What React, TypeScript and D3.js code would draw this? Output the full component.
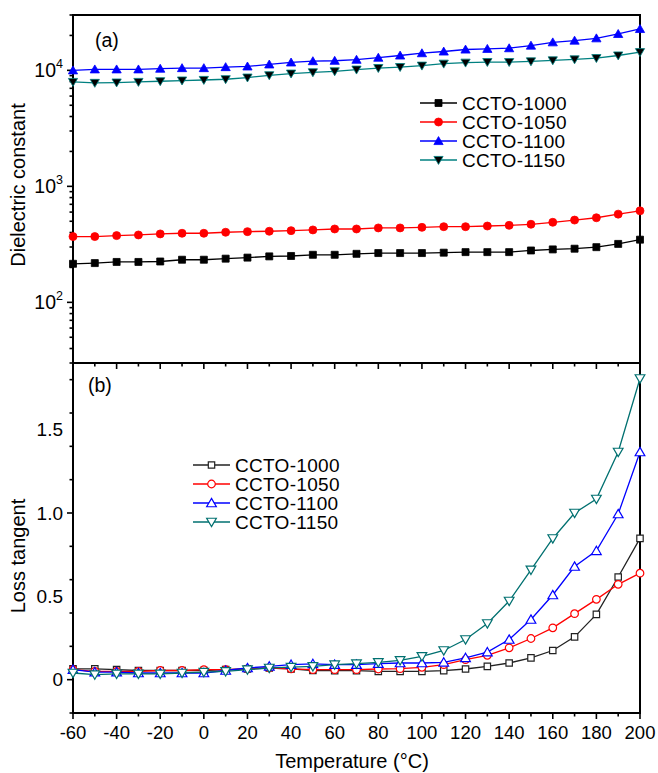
import React, { useRef, useEffect } from 'react';
import * as d3 from 'd3';

const TEMPS = [-60, -50, -40, -30, -20, -10, 0, 10, 20, 30, 40, 50, 60, 70, 80, 90, 100, 110, 120, 130, 140, 150, 160, 170, 180, 190, 200];

const SERIES_NAMES = ['CCTO-1000', 'CCTO-1050', 'CCTO-1100', 'CCTO-1150'];

// (a) dielectric constant
const EPS_1000 = [215, 218, 223, 223, 225, 233, 233, 238, 243, 249, 251, 257, 257, 262, 266, 266, 266, 268, 271, 271, 271, 280, 286, 290, 299, 319, 347];
const EPS_1050 = [369, 369, 376, 381, 389, 394, 394, 402, 407, 410, 415, 421, 429, 429, 438, 438, 443, 449, 449, 455, 461, 471, 490, 512, 536, 576, 615];
const EPS_1100 = [10000, 10200, 10200, 10200, 10340, 10460, 10460, 10670, 10810, 11250, 11700, 12010, 12100, 12350, 12860, 13430, 14060, 14540, 15120, 15330, 15520, 16350, 17450, 18050, 18900, 20600, 22740];
const EPS_1150 = [7940, 7790, 7850, 7940, 8050, 8170, 8260, 8380, 8660, 9060, 9370, 9610, 9800, 10140, 10460, 10670, 10970, 11410, 11640, 11780, 11780, 11940, 12180, 12420, 12740, 13430, 14340];

// (b) loss tangent
const TAN_1000 = [0.065, 0.065, 0.06, 0.055, 0.055, 0.055, 0.055, 0.06, 0.065, 0.07, 0.065, 0.055, 0.054, 0.054, 0.05, 0.05, 0.05, 0.054, 0.064, 0.08, 0.1, 0.131, 0.175, 0.257, 0.392, 0.616, 0.848];
const TAN_1050 = [0.06, 0.05, 0.05, 0.05, 0.055, 0.055, 0.06, 0.06, 0.065, 0.07, 0.065, 0.06, 0.06, 0.06, 0.064, 0.066, 0.074, 0.09, 0.12, 0.146, 0.191, 0.247, 0.311, 0.396, 0.482, 0.572, 0.639];
const TAN_1100 = [0.06, 0.045, 0.045, 0.04, 0.04, 0.04, 0.04, 0.055, 0.07, 0.08, 0.09, 0.095, 0.09, 0.09, 0.096, 0.1, 0.1, 0.104, 0.131, 0.165, 0.241, 0.361, 0.508, 0.679, 0.773, 0.994, 1.366];
const TAN_1150 = [0.04, 0.03, 0.035, 0.035, 0.035, 0.04, 0.045, 0.05, 0.06, 0.07, 0.075, 0.08, 0.09, 0.096, 0.104, 0.116, 0.14, 0.175, 0.241, 0.337, 0.472, 0.659, 0.847, 1.0, 1.084, 1.366, 1.807];

const X_TICKS = [-60, -40, -20, 0, 20, 40, 60, 80, 100, 120, 140, 160, 180, 200];
const EPS_TICKS = [100, 1000, 10000];
const TAN_TICKS = [0, 0.5, 1.0, 1.5];
const TAN_TICK_LABELS = ['0', '0.5', '1.0', '1.5'];

const COLORS_A = ['#000000', '#ff0000', '#0000ff', '#008080'];
const COLORS_B = ['#222222', '#ff0000', '#0000ff', '#007070'];
const SHAPES = ['square', 'circle', 'up', 'down'];

const FONT = '"Liberation Sans", Arial, Helvetica, sans-serif';
const W = 658;
const H = 773;
const LEFT = 73;
const RIGHT = 640;
const TOP_A = 15;
const MID = 363;
const BOT_B = 713;

// s = half-size of the marker
function markerPath(shape: string, s: number) {
  if (shape === 'square') return `M${-s},${-s}H${s}V${s}H${-s}Z`;
  if (shape === 'circle') return d3.symbol(d3.symbolCircle, Math.PI * s * s)() as string;
  if (shape === 'up') return `M0,${-s * 1.05}L${s * 1.1},${s * 0.85}L${-s * 1.1},${s * 0.85}Z`;
  return `M0,${s * 1.05}L${s * 1.1},${-s * 0.85}L${-s * 1.1},${-s * 0.85}Z`;
}

export default function App() {
  const svgRef = useRef<SVGSVGElement | null>(null);

  useEffect(() => {
    const svg = d3.select(svgRef.current);
    svg.selectAll('*').remove();

    const x = d3.scaleLinear().domain([-60, 200]).range([LEFT, RIGHT]);
    const yA = d3.scaleLog().domain([30, 30000]).range([MID, TOP_A]);
    const yB = d3.scaleLinear().domain([-0.2, 1.9]).range([BOT_B, MID]);

    const g = svg.append('g').style('font-family', FONT).attr('fill', '#000');

    // x ticks under both panels, pointing down
    [MID, BOT_B].forEach(yy => {
      TEMPS.forEach(t => {
        const major = X_TICKS.includes(t);
        g.append('line')
          .attr('x1', x(t)).attr('x2', x(t))
          .attr('y1', yy).attr('y2', yy + (major ? 6 : 3.5))
          .attr('stroke', '#000').attr('stroke-width', 1.6);
      });
    });

    X_TICKS.forEach(t => {
      g.append('text')
        .attr('x', x(t)).attr('y', 738.5)
        .attr('text-anchor', 'middle')
        .style('font-size', '18.5px')
        .text(String(t));
    });

    // (a) y ticks, log with minor ticks
    yA.ticks().filter(v => v >= 30 && v <= 30000).forEach(v => {
      const major = EPS_TICKS.includes(v);
      g.append('line')
        .attr('x1', LEFT).attr('x2', LEFT - (major ? 6 : 3.5))
        .attr('y1', yA(v)).attr('y2', yA(v))
        .attr('stroke', '#000').attr('stroke-width', 1.6);
    });
    EPS_TICKS.forEach(v => {
      const t = g.append('text')
        .attr('x', 63).attr('y', yA(v) + 7)
        .attr('text-anchor', 'end')
        .style('font-size', '19.5px');
      t.append('tspan').text('10');
      t.append('tspan').attr('dy', -9).style('font-size', '12.5px').text(String(Math.round(Math.log10(v))));
    });

    // (b) y ticks, minor every 0.25
    yB.ticks(8).forEach(v => {
      const major = TAN_TICKS.includes(v);
      g.append('line')
        .attr('x1', LEFT).attr('x2', LEFT - (major ? 6 : 3.5))
        .attr('y1', yB(v)).attr('y2', yB(v))
        .attr('stroke', '#000').attr('stroke-width', 1.6);
    });
    TAN_TICKS.forEach((v, i) => {
      g.append('text')
        .attr('x', 63).attr('y', yB(v) + 6.5)
        .attr('text-anchor', 'end')
        .style('font-size', '19px')
        .text(TAN_TICK_LABELS[i]);
    });

    // frames
    [[TOP_A, MID], [MID, BOT_B]].forEach(([t, b]) => {
      g.append('rect')
        .attr('x', LEFT).attr('y', t)
        .attr('width', RIGHT - LEFT).attr('height', b - t)
        .attr('fill', 'none').attr('stroke', '#000').attr('stroke-width', 2);
    });

    // (a) series, filled markers
    const markerSizeA = [3.5, 4, 4.2, 4.2];
    [EPS_1000, EPS_1050, EPS_1100, EPS_1150].forEach((vals, si) => {
      const pts = vals.map((v, i) => [x(TEMPS[i]), yA(v)] as [number, number]);
      g.append('path')
        .attr('d', d3.line()(pts))
        .attr('fill', 'none').attr('stroke', COLORS_A[si]).attr('stroke-width', 1.3);
      pts.forEach(p => {
        g.append('path')
          .attr('d', markerPath(SHAPES[si], markerSizeA[si]))
          .attr('transform', `translate(${p[0]},${p[1]})`)
          .attr('fill', si === 3 ? '#000' : COLORS_A[si])
          .attr('stroke', COLORS_A[si]).attr('stroke-width', 0.8);
      });
    });

    // (b) series, open markers
    const markerSizeB = [3.2, 3.8, 4.4, 4.4];
    [TAN_1000, TAN_1050, TAN_1100, TAN_1150].forEach((vals, si) => {
      const pts = vals.map((v, i) => [x(TEMPS[i]), yB(v)] as [number, number]);
      g.append('path')
        .attr('d', d3.line()(pts))
        .attr('fill', 'none').attr('stroke', COLORS_B[si]).attr('stroke-width', 1.3);
      pts.forEach(p => {
        g.append('path')
          .attr('d', markerPath(SHAPES[si], markerSizeB[si]))
          .attr('transform', `translate(${p[0]},${p[1]})`)
          .attr('fill', '#fff')
          .attr('stroke', COLORS_B[si]).attr('stroke-width', 1.2);
      });
    });

    // legends
    const legend = (lx: number, ly: number, filled: boolean, sizes: number[], cols: string[]) => {
      SERIES_NAMES.forEach((name, i) => {
        const cy = ly + i * 19;
        g.append('line')
          .attr('x1', lx).attr('x2', lx + 37)
          .attr('y1', cy).attr('y2', cy)
          .attr('stroke', cols[i]).attr('stroke-width', 1.3);
        g.append('path')
          .attr('d', markerPath(SHAPES[i], sizes[i]))
          .attr('transform', `translate(${lx + 18.5},${cy})`)
          .attr('fill', filled ? (i === 3 ? '#000' : cols[i]) : '#fff')
          .attr('stroke', cols[i]).attr('stroke-width', filled ? 0.8 : 1.2);
        g.append('text')
          .attr('x', lx + 42).attr('y', cy + 6.5)
          .style('font-size', '19px')
          .style('letter-spacing', '0.3px')
          .text(name);
      });
    };
    legend(420, 103, true, markerSizeA, COLORS_A);
    legend(193, 465, false, markerSizeB, COLORS_B);

    // panel labels
    g.append('text').attr('x', 95).attr('y', 47).style('font-size', '19.5px').text('(a)');
    g.append('text').attr('x', 88).attr('y', 392).style('font-size', '19.5px').text('(b)');

    // axis titles
    g.append('text')
      .attr('transform', 'translate(25,185) rotate(-90)')
      .attr('text-anchor', 'middle')
      .style('font-size', '20px')
      .text('Dielectric constant');
    g.append('text')
      .attr('transform', 'translate(25,556) rotate(-90)')
      .attr('text-anchor', 'middle')
      .style('font-size', '20px')
      .text('Loss tangent');
    g.append('text')
      .attr('x', 352).attr('y', 768)
      .attr('text-anchor', 'middle')
      .style('font-size', '20px')
      .text('Temperature (°C)');
  }, []);

  return (
    <svg
      ref={svgRef}
      width={W}
      height={H}
      style={{ position: 'absolute', left: 0, top: 0, background: '#fff' }}
    />
  );
}
